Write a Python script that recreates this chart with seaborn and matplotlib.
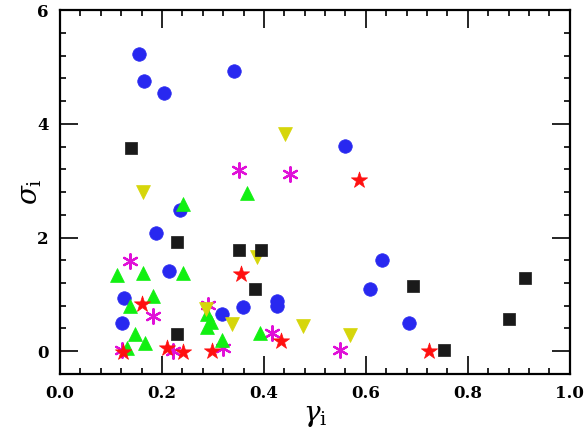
import pandas as pd
import seaborn as sns
import matplotlib.pyplot as plt
from matplotlib.ticker import MultipleLocator

# gamma_i / sigma_i per group
blue_x = [0.155, 0.165, 0.204, 0.341, 0.559, 0.235, 0.188, 0.213, 0.125, 0.121,
          0.317, 0.359, 0.426, 0.425, 0.631, 0.609, 0.685]
blue_y = [5.23, 4.76, 4.55, 4.93, 3.61, 2.48, 2.08, 1.41, 0.93, 0.49,
          0.66, 0.77, 0.89, 0.79, 1.61, 1.10, 0.49]

black_x = [0.140, 0.230, 0.351, 0.395, 0.382, 0.230, 0.693, 0.912, 0.880, 0.754]
black_y = [3.57, 1.93, 1.78, 1.78, 1.10, 0.30, 1.14, 1.28, 0.56, 0.02]

yellow_x = [0.441, 0.163, 0.387, 0.286, 0.338, 0.477, 0.569]
yellow_y = [3.83, 2.80, 1.66, 0.75, 0.48, 0.44, 0.29]

green_x = [0.367, 0.242, 0.111, 0.162, 0.241, 0.183, 0.137, 0.288, 0.297, 0.288,
           0.147, 0.167, 0.131, 0.318, 0.392]
green_y = [2.78, 2.59, 1.34, 1.37, 1.38, 0.97, 0.79, 0.65, 0.51, 0.43,
           0.31, 0.14, 0.05, 0.19, 0.32]

magenta_x = [0.351, 0.451, 0.137, 0.183, 0.291, 0.415, 0.121, 0.222, 0.320, 0.549]
magenta_y = [3.19, 3.12, 1.59, 0.62, 0.81, 0.32, 0.03, 0.01, 0.05, 0.02]

red_x = [0.587, 0.356, 0.160, 0.124, 0.210, 0.242, 0.299, 0.433, 0.724]
red_y = [3.01, 1.36, 0.83, -0.02, 0.05, -0.01, 0.00, 0.18, 0.00]

groups = [
    ('blue', blue_x, blue_y, '#2828f0', 'o', 95),
    ('magenta', magenta_x, magenta_y, '#e010d8', (6, 2, 0), 110),
    ('green', green_x, green_y, '#11f011', '^', 100),
    ('yellow', yellow_x, yellow_y, '#d6d60a', 'v', 100),
    ('black', black_x, black_y, '#1a1a1a', 's', 68),
    ('red', red_x, red_y, '#ff1010', '*', 150),
]

plt.rcParams['font.family'] = ['DejaVu Serif']
plt.rcParams['mathtext.fontset'] = 'dejavuserif'

fig = plt.figure(figsize=(5.88, 4.41), dpi=100)
ax = fig.add_axes([0.102, 0.152, 0.867, 0.825])

for name, xs, ys, col, mk, s in groups:
    df = pd.DataFrame({'gamma': xs, 'sigma': ys})
    if name == 'magenta':
        sns.scatterplot(data=df, x='gamma', y='sigma', ax=ax, marker=mk, s=s,
                        color=col, linewidth=1.6, zorder=3)
    else:
        sns.scatterplot(data=df, x='gamma', y='sigma', ax=ax, marker=mk, s=s,
                        color=col, edgecolor=col, linewidth=0.5, zorder=3)

ax.set_xlim(0, 1.0)
ax.set_ylim(-0.4, 6)
ax.xaxis.set_major_locator(MultipleLocator(0.2))
ax.xaxis.set_minor_locator(MultipleLocator(0.04))
ax.yaxis.set_major_locator(MultipleLocator(2))
ax.yaxis.set_minor_locator(MultipleLocator(0.4))
ax.tick_params(which='both', direction='in', top=True, right=True, width=1.2)
ax.tick_params(which='major', length=13, labelsize=12, pad=8)
ax.tick_params(which='minor', length=4.5)
for lab in ax.get_xticklabels() + ax.get_yticklabels():
    lab.set_fontweight('bold')
for sp in ax.spines.values():
    sp.set_linewidth(1.6)

ax.set_xlabel(r'$\gamma_{\rm i}$', fontsize=20, labelpad=0)
ax.set_ylabel(r'$\sigma_{\rm i}$', fontsize=20, labelpad=-5)

fig.savefig('out.png', dpi=100)
